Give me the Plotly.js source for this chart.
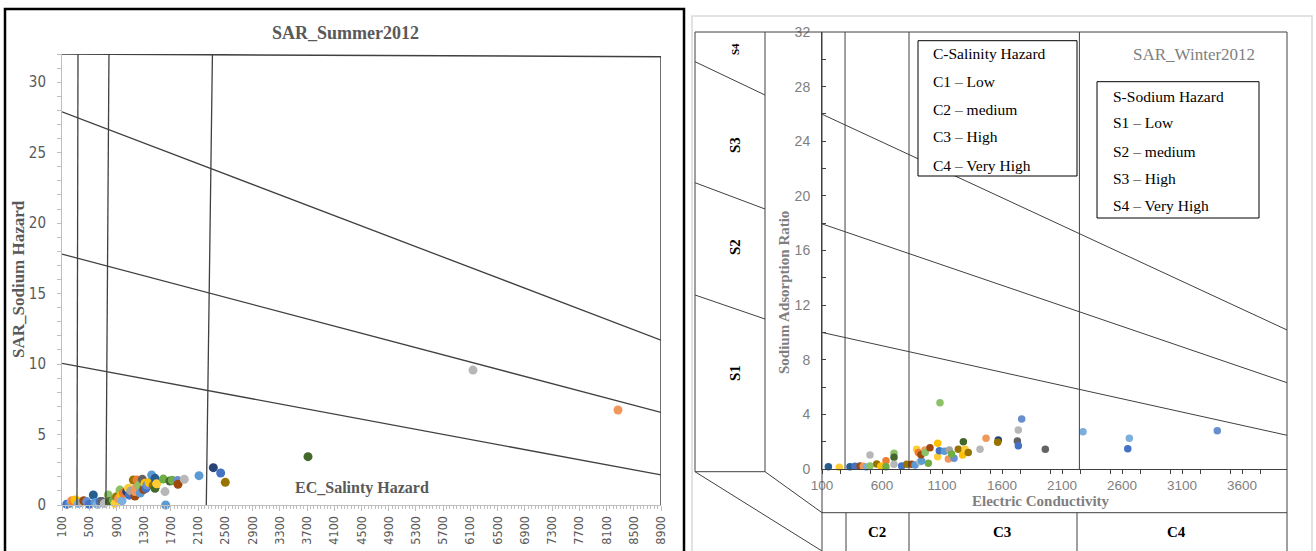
<!DOCTYPE html>
<html>
<head>
<meta charset="utf-8">
<script src="https://cdn.plot.ly/plotly-3.0.1.min.js"></script>
<style>html,body{margin:0;padding:0;background:#fff;}#chart{width:1316px;height:551px;}</style>
</head>
<body>
<div id="chart"></div>
<script>
// ---------- DATA ----------
// Summer 2012: Electric conductivity (EC) and sodium adsorption ratio (SAR)
const summerEC  = [170,218,240,266,290,315,340,389,420,462,500,560,585,620,658,687,720,780,800,853,880,903,930,952,967,982,1000,1050,1075,1090,1110,1148,1172,1172,1187,1202,1230,1250,1280,1300,1319,1334,1348,1380,1417,1440,1466,1466,1490,1589,1613,1623,1686,1720,1799,1804,1897,2113,2323,2431,2499,3714,6138,8268];
const summerSAR = [0.05,0.12,0.3,0.24,0.35,0.3,0.1,0.17,0.3,0.24,0.05,0.71,0.17,0.05,0.24,0.24,0.1,0.71,0.24,0.35,0.1,0.59,0.45,1.06,0.7,0.3,0.85,0.95,1.18,0.7,1.0,1.77,0.64,0.95,1.2,1.77,1.4,0.85,1.82,1.1,1.54,1.18,1.42,1.6,2.13,1.4,1.89,1.18,1.5,1.84,0.95,0.0,1.7,1.75,1.73,1.47,1.82,2.08,2.65,2.27,1.61,3.43,9.57,6.74];
// Winter 2012
const winterEC  = [153,244,333,375,417,444,470,500,500,556,590,633,633,700,700,700,764,806,847,875,917,986,889,903,930,958,925,960,1000,1064,1064,1083,1078,1120,1161,1153,1200,1180,1236,1278,1272,1292,1319,1417,1467,1569,1564,1728,1736,1736,1764,1961,2275,2661,2648,3394];
const winterSAR = [0.17,0.12,0.17,0.2,0.22,0.2,0.15,1.03,0.22,0.37,0.2,0.61,0.17,1.15,0.86,0.34,0.22,0.34,0.34,0.3,0.53,0.42,1.44,1.2,0.58,1.39,1.05,1.2,1.56,1.88,0.9,4.86,1.34,1.3,1.39,0.74,0.78,1.1,1.44,2.0,1.03,1.44,1.2,1.44,2.25,2.12,1.96,2.05,2.86,1.7,3.66,1.44,2.73,2.25,1.49,2.8];
// Classification boundaries (EC in µS/cm, SAR)
const summerEcLinesTop    = [335, 790, 2310];
const summerEcLinesBottom = [320, 745, 2220];
const summerSarLeft  = [10.05, 17.8, 27.9];
const summerSarRight = [2.13, 6.57, 11.7];
const winterEcLines  = [292, 825, 2245];
const winterSarLeft  = [10.0, 17.95, 25.98];
const winterSarRight = [2.47, 6.32, 10.18];
// Tick / label texts
const salinityLegend = ["C-Salinity Hazard","C1 – Low","C2 – medium","C3 – High","C4 – Very High"];
const sodiumLegend   = ["S-Sodium Hazard","S1 – Low","S2 – medium","S3 – High","S4 – Very High"];
const sClasses = ["S4","S3","S2","S1"];
const cClasses = ["C2","C3","C4"];

// ---------- STYLE ----------
const pal = {blue:'#4472C4',orange:'#ED7D31',grey:'#A5A5A5',gold:'#FFC000',lblue:'#5B9BD5',green:'#70AD47',
  dblue:'#264478',brown:'#9E480E',dgrey:'#636363',olive:'#997300',navy:'#255E91',dgreen:'#43682B',
  lblue2:'#698ED0',lorange:'#F1975A',lgrey:'#B7B7B7',lgold:'#FFCD33',sky:'#7CAFDD',lgreen:'#8CC168'};
const summerColorNames = ['blue','lblue','lorange','orange','gold','gold','sky','grey','brown','lblue2','blue','navy','lblue','sky','blue','dgrey','lgrey','lgreen','dgreen','green','lgold','olive','lorange','lgreen','gold','sky','orange','dblue','lgold','blue','grey','olive','brown','lorange','lorange','orange','lgreen','lblue','dgrey','brown','gold','blue','lblue2','gold','lblue','olive','navy','dgreen','lgold','green','lgrey','lblue','dgreen','green','lblue2','brown','lgrey','lblue','dblue','blue','olive','dgreen','lgrey','lorange'];
const winterColorNames = ['navy','lgold','navy','blue','brown','lorange','sky','lgrey','lgreen','olive','gold','orange','green','lgreen','dgreen','lgrey','blue','olive','brown','lblue','lgrey','green','lgold','orange','lblue','lorange','brown','lgreen','brown','gold','lgold','lgreen','blue','lblue','grey','lorange','lblue2','green','olive','dgreen','gold','lgold','olive','lgrey','lorange','dblue','olive','dgrey','lgrey','blue','lblue2','dgrey','sky','sky','blue','lblue2'];

const W = 1316, H = 551;
const PX = v => v / W, PY = v => 1 - v / H;
const SERIF = 'Liberation Serif, Times New Roman, serif';
const SANS = 'Liberation Sans, Arial, sans-serif';
const NARROW = 'Liberation Sans Narrow, DejaVu Sans Condensed, Liberation Sans, sans-serif';
const DARK = '#404040';

const shapes = [];
const ann = [];
function pline(x0,y0,x1,y1,color,width){
  shapes.push({type:'line',xref:'paper',yref:'paper',x0:PX(x0),y0:PY(y0),x1:PX(x1),y1:PY(y1),line:{color:color||DARK,width:width||1}});
}
function dline(xr,yr,x0,y0,x1,y1,color,width){
  shapes.push({type:'line',xref:xr,yref:yr,x0:x0,y0:y0,x1:x1,y1:y1,line:{color:color||DARK,width:width||1}});
}
function prect(x0,y0,x1,y1,color,width,fill){
  shapes.push({type:'rect',xref:'paper',yref:'paper',x0:PX(x0),y0:PY(y1),x1:PX(x1),y1:PY(y0),
    line:{color:color,width:width},fillcolor:fill||'rgba(0,0,0,0)'});
}
function text(t,x,y,opts){
  opts = opts||{};
  ann.push({text:t,xref:'paper',yref:'paper',x:PX(x),y:PY(y),showarrow:false,
    xanchor:opts.xanchor||'center',yanchor:'middle',textangle:opts.angle||0,
    font:{family:opts.family||SERIF,size:opts.size||14,color:opts.color||'#000'}});
}

// ---------- LEFT PANEL (Summer) ----------
prect(5,9,684,580,'#000',2.5);
const xL0 = 100, xL1 = 8900;
dline('x','y',xL0,32,xL1,31.8,DARK,1.5);
dline('x','y',xL1,31.8,xL1,0,DARK,1.5);
for(let i=0;i<summerEcLinesTop.length;i++) dline('x','y',summerEcLinesTop[i],32,summerEcLinesBottom[i],0,DARK,1.3);
for(let i=0;i<summerSarLeft.length;i++) dline('x','y',xL0,summerSarLeft[i],xL1,summerSarRight[i],DARK,1.3);
text('<b>SAR_Summer2012</b>',345,33,{size:18,color:'#595959'});
text('<b>SAR_Sodium Hazard</b>',18,279,{size:17,color:'#595959',angle:-90});
text('<b>EC_Salinty Hazard</b>',362,488,{size:16,color:'#595959'});

// ---------- RIGHT PANEL (Winter) ----------
prect(692,16,1312,580,'#D9D9D9',1.5);
const xR0 = 100, xR1 = 3975;
pline(695,32,1287,32);
pline(695,32,695,471.7);
pline(765,32,765,471.7);
pline(822,32,822,560);
pline(1287,32,1287,560);
pline(695,61.7,765,95);
pline(695,182.7,765,209);
pline(695,295,765,319);
pline(695,471.7,765,471.7);
pline(695,471.7,822,551);
pline(765,471.7,822,512.7);
pline(822,512.7,1287,512.7);
[846,909,1077].forEach(x=>pline(x,512.7,x,560));
winterEcLines.forEach(x=>dline('x2','y2',x,0,x,32,DARK,1));
for(let i=0;i<winterSarLeft.length;i++) dline('x2','y2',xR0,winterSarLeft[i],xR1,winterSarRight[i],DARK,1);
prect(918,40.7,1077,176,'#000',1,'#fff');
prect(1097,81.7,1259,218,'#000',1,'#fff');
const legY1 = [54,81,109,137,165];
salinityLegend.forEach((t,i)=>text(t,931,legY1[i],{xanchor:'left',size:15.5}));
const legY2 = [96,123,151,178,206];
sodiumLegend.forEach((t,i)=>text(t,1111,legY2[i],{xanchor:'left',size:15.5}));
text('SAR_Winter2012',1194,55,{size:17,color:'#808080'});
const sY = [49,145,247,373], sSize=[11,15,15,15];
sClasses.forEach((t,i)=>text('<b>'+t+'</b>',735,sY[i],{angle:-90,size:sSize[i]}));
const cX = [877,1002,1176];
cClasses.forEach((t,i)=>text('<b>'+t+'</b>',cX[i],532,{size:15}));
text('<b>Sodium Adsorption Ratio</b>',784,293,{size:15,color:'#7F7F7F',angle:-90});
text('<b>Electric Conductivity</b>',1041,501,{size:15,color:'#7F7F7F'});

// ---------- TRACES ----------
const traces = [
  {type:'scatter',mode:'markers',x:summerEC,y:summerSAR,xaxis:'x',yaxis:'y',cliponaxis:false,
   marker:{size:9,color:summerColorNames.map(c=>pal[c]),line:{width:0}},hoverinfo:'x+y'},
  {type:'scatter',mode:'markers',x:winterEC,y:winterSAR,xaxis:'x2',yaxis:'y2',cliponaxis:false,
   marker:{size:7.5,color:winterColorNames.map(c=>pal[c]),line:{width:0}},hoverinfo:'x+y'}
];

const layout = {
  width:W,height:H,margin:{l:0,r:0,t:0,b:0},paper_bgcolor:'#fff',plot_bgcolor:'rgba(0,0,0,0)',
  showlegend:false,
  xaxis:{domain:[PX(62),PX(661)],range:[xL0,xL1],anchor:'y',tickmode:'linear',tick0:100,dtick:400,
    tickangle:-90,ticks:'outside',ticklen:5,tickcolor:'#BFBFBF',showline:true,linecolor:'#BFBFBF',linewidth:1,
    minor:{dtick:50,ticks:'outside',ticklen:3,tickcolor:'#BFBFBF'},
    showgrid:false,zeroline:false,tickfont:{family:NARROW,size:12.5,color:'#595959'}},
  yaxis:{domain:[PY(505),PY(54)],range:[0,32],anchor:'x',tickmode:'linear',tick0:0,dtick:5,
    ticks:'outside',ticklen:4,tickcolor:'#BFBFBF',showline:true,linecolor:'#BFBFBF',linewidth:1,
    minor:{dtick:1,ticks:'outside',ticklen:4,tickcolor:'#BFBFBF'},ticklabelstandoff:8,
    showgrid:false,zeroline:false,tickfont:{family:NARROW,size:15,color:'#595959'}},
  xaxis2:{domain:[PX(822),PX(1287)],range:[xR0,xR1],anchor:'y2',tickmode:'linear',tick0:100,dtick:500,
    ticks:'outside',ticklen:4,tickcolor:DARK,showline:true,linecolor:DARK,linewidth:1,
    minor:{dtick:250,ticks:'outside',ticklen:4,tickcolor:DARK},ticklabelstandoff:0,
    showgrid:false,zeroline:false,tickfont:{family:SANS,size:13.5,color:'#808080'}},
  yaxis2:{domain:[PY(469),PY(32)],range:[0,32],anchor:'x2',tickmode:'linear',tick0:0,dtick:4,
    ticks:'inside',ticklen:4,tickcolor:DARK,showline:true,linecolor:DARK,linewidth:1,
    minor:{dtick:2,ticks:'inside',ticklen:4,tickcolor:DARK},ticklabelstandoff:8,
    showgrid:false,zeroline:false,tickfont:{family:SANS,size:14,color:'#808080'}},
  shapes:shapes,
  annotations:ann
};
Plotly.newPlot('chart',traces,layout,{displayModeBar:false,staticPlot:true});
</script>
</body>
</html>
